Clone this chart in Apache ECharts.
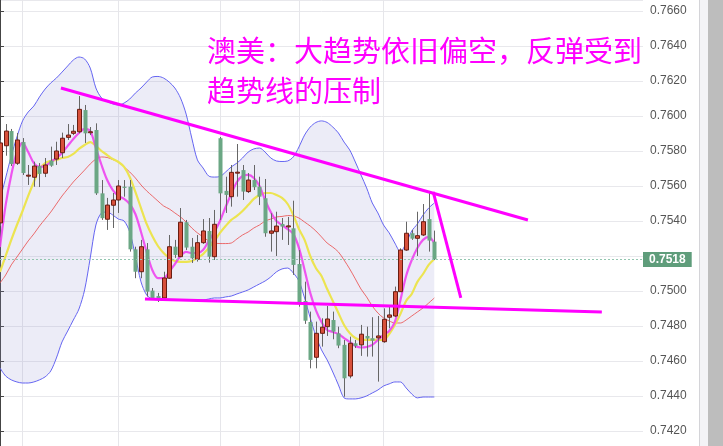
<!DOCTYPE html>
<html><head><meta charset="utf-8">
<script src="https://cdn.jsdelivr.net/npm/echarts@6/dist/echarts.min.js"></script>
<style>html,body{margin:0;padding:0;background:#fff}#c{width:723px;height:446px}</style>
</head><body><div id="c"></div>
<script>
// ---- data ----
const opens = [0.75389,0.75830,0.75914,0.75730,0.75851,0.75660,0.75650,0.75714,0.75673,0.75745,
0.75754,0.75790,0.75878,0.75901,0.75910,0.76034,0.75908,0.75920,0.75558,0.75410,
0.75490,0.75520,0.75596,0.75596,0.75238,0.75110,0.75238,0.75002,0.74971,0.74960,
0.75073,0.75253,0.75196,0.75393,0.75253,0.75181,0.75276,0.75343,0.75196,0.75873,
0.75572,0.75539,0.75677,0.75691,0.75568,0.75634,0.75596,0.75530,0.75330,0.75339,
0.75383,0.75371,0.75358,0.75154,0.74943,0.74823,0.74621,0.74758,0.74796,0.74834,
0.74758,0.74692,0.74514,0.74701,0.74692,0.74743,0.74730,0.74732,0.74710,0.74850,
0.74857,0.74996,0.75234,0.75330,0.75301,0.75320,0.75411,0.75282];
const closes = [0.75846,0.75914,0.75726,0.75863,0.75674,0.75662,0.75714,0.75669,0.75720,0.75716,
0.75800,0.75873,0.75891,0.75913,0.76038,0.75901,0.75910,0.75558,0.75416,0.75491,
0.75520,0.75600,0.75589,0.75238,0.75110,0.75253,0.74996,0.74960,0.74954,0.75074,
0.75253,0.75206,0.75393,0.75248,0.75187,0.75276,0.75343,0.75196,0.75381,0.75558,
0.75549,0.75678,0.75679,0.75568,0.75634,0.75593,0.75539,0.75330,0.75343,0.75371,
0.75368,0.75372,0.75149,0.74926,0.74830,0.74606,0.74758,0.74793,0.74840,0.74768,
0.74688,0.74501,0.74701,0.74686,0.74753,0.74728,0.74716,0.74743,0.74838,0.74863,
0.74996,0.75234,0.75330,0.75299,0.75316,0.75396,0.75288,0.75181];
const lows = [0.75371,0.75773,0.75714,0.75720,0.75663,0.75606,0.75596,0.75594,0.75651,0.75710,
0.75720,0.75760,0.75863,0.75891,0.75901,0.75846,0.75891,0.75549,0.75406,0.75349,
0.75360,0.75446,0.75539,0.75225,0.75073,0.75073,0.74968,0.74949,0.74937,0.74949,
0.75069,0.75189,0.75194,0.75234,0.75160,0.75168,0.75269,0.75162,0.75177,0.75406,
0.75446,0.75482,0.75539,0.75520,0.75560,0.75577,0.75491,0.75310,0.75225,0.75200,
0.75292,0.75263,0.75092,0.74910,0.74812,0.74558,0.74558,0.74682,0.74743,0.74724,
0.74673,0.74396,0.74501,0.74674,0.74629,0.74625,0.74625,0.74482,0.74704,0.74787,
0.74851,0.74994,0.75229,0.75292,0.75200,0.75314,0.75225,0.75177];
const highs = [0.75863,0.75954,0.75926,0.75903,0.75874,0.75720,0.75739,0.75731,0.75760,0.75825,
0.75853,0.75905,0.75954,0.75949,0.76114,0.76063,0.75937,0.75958,0.75634,0.75532,
0.75560,0.75634,0.75634,0.75634,0.75253,0.75292,0.75274,0.75017,0.74989,0.75110,
0.75320,0.75292,0.75474,0.75406,0.75303,0.75320,0.75411,0.75417,0.75463,0.75880,
0.75653,0.75720,0.75840,0.75720,0.75674,0.75720,0.75653,0.75640,0.75444,0.75453,
0.75417,0.75423,0.75516,0.75234,0.75053,0.74882,0.74825,0.74844,0.74914,0.74882,
0.74796,0.74720,0.74739,0.74720,0.74806,0.74796,0.74850,0.74857,0.74901,0.74910,
0.75025,0.75244,0.75396,0.75349,0.75453,0.75497,0.75568,0.75345];
const bbUpper = [0.75520,0.75646,0.75772,0.75880,0.75972,0.76023,0.76057,0.76109,0.76154,0.76189,
0.76217,0.76251,0.76286,0.76320,0.76337,0.76326,0.76274,0.76160,0.76103,0.76083,
0.76069,0.76063,0.76074,0.76097,0.76131,0.76160,0.76194,0.76223,0.76226,0.76217,
0.76194,0.76160,0.76103,0.76011,0.75874,0.75749,0.75703,0.75657,0.75651,0.75654,
0.75680,0.75709,0.75731,0.75760,0.75794,0.75812,0.75817,0.75794,0.75760,0.75743,
0.75740,0.75743,0.75766,0.75823,0.75891,0.75937,0.75963,0.75972,0.75963,0.75937,
0.75903,0.75851,0.75806,0.75737,0.75663,0.75589,0.75503,0.75446,0.75377,0.75332,
0.75274,0.75223,0.75274,0.75343,0.75383,0.75434,0.75474,0.75503];
const bbLower = [0.74560,0.74514,0.74492,0.74480,0.74474,0.74474,0.74480,0.74492,0.74509,0.74543,
0.74617,0.74709,0.74771,0.74834,0.74897,0.75006,0.75189,0.75377,0.75446,0.75451,
0.75434,0.75411,0.75400,0.75337,0.75200,0.75052,0.74977,0.74954,0.74949,0.74949,
0.74949,0.74949,0.74949,0.74949,0.74949,0.74949,0.74949,0.74954,0.74960,0.74960,
0.74966,0.74971,0.74983,0.74994,0.75006,0.75023,0.75040,0.75057,0.75080,0.75109,
0.75126,0.75131,0.75103,0.75057,0.74960,0.74846,0.74743,0.74663,0.74606,0.74537,
0.74463,0.74389,0.74383,0.74383,0.74389,0.74400,0.74417,0.74434,0.74457,0.74469,
0.74480,0.74480,0.74446,0.74411,0.74389,0.74394,0.74394,0.74394];
const bbMid = [0.75046,0.75091,0.75149,0.75194,0.75240,0.75286,0.75326,0.75371,0.75411,0.75451,
0.75497,0.75543,0.75583,0.75623,0.75657,0.75691,0.75726,0.75754,0.75766,0.75763,
0.75751,0.75737,0.75709,0.75680,0.75646,0.75606,0.75572,0.75543,0.75514,0.75486,
0.75469,0.75446,0.75423,0.75394,0.75360,0.75332,0.75309,0.75286,0.75274,0.75271,
0.75271,0.75274,0.75297,0.75320,0.75337,0.75360,0.75377,0.75400,0.75411,0.75423,
0.75426,0.75431,0.75429,0.75417,0.75394,0.75371,0.75343,0.75309,0.75274,0.75251,
0.75223,0.75177,0.75126,0.75069,0.75011,0.74966,0.74914,0.74874,0.74846,0.74829,
0.74817,0.74817,0.74834,0.74857,0.74880,0.74903,0.74931,0.74960];
const maYellow = [0.75109,0.75200,0.75292,0.75377,0.75457,0.75543,0.75623,0.75697,0.75731,0.75743,
0.75749,0.75760,0.75766,0.75783,0.75812,0.75834,0.75851,0.75829,0.75800,0.75777,
0.75754,0.75737,0.75709,0.75651,0.75566,0.75474,0.75383,0.75314,0.75257,0.75217,
0.75189,0.75171,0.75166,0.75166,0.75171,0.75189,0.75211,0.75246,0.75286,0.75332,
0.75371,0.75406,0.75429,0.75457,0.75491,0.75526,0.75549,0.75560,0.75560,0.75549,
0.75532,0.75497,0.75434,0.75354,0.75292,0.75200,0.75131,0.75086,0.75011,0.74943,
0.74874,0.74806,0.74760,0.74731,0.74720,0.74720,0.74720,0.74720,0.74720,0.74754,
0.74806,0.74869,0.74943,0.74983,0.75052,0.75097,0.75149,0.75183];
const maMagenta = [0.75251,0.75491,0.75663,0.75794,0.75846,0.75794,0.75731,0.75709,0.75714,0.75737,
0.75760,0.75789,0.75829,0.75869,0.75903,0.75926,0.75914,0.75817,0.75720,0.75634,
0.75577,0.75543,0.75526,0.75497,0.75440,0.75337,0.75223,0.75120,0.75074,0.75074,
0.75109,0.75154,0.75200,0.75223,0.75217,0.75217,0.75234,0.75286,0.75337,0.75400,
0.75480,0.75554,0.75623,0.75657,0.75663,0.75646,0.75600,0.75520,0.75451,0.75400,
0.75377,0.75354,0.75326,0.75246,0.75120,0.74989,0.74891,0.74823,0.74777,0.74766,
0.74754,0.74731,0.74709,0.74686,0.74677,0.74680,0.74692,0.74720,0.74749,0.74771,
0.74823,0.74949,0.75086,0.75177,0.75246,0.75292,0.75309,0.75274];
// trend lines drawn on the chart: [bar position, price]
const trendResistance = [[10.8, 0.76160], [93.6, 0.75406]];
const trendDrop = [[76.8, 0.75566], [81.7, 0.74960]];
const trendSupport = [[25.7, 0.74954], [106.7, 0.74880]];
const lastPrice = 0.7518;
const slotCount = 115;            // bar slots on the time axis (right part empty)
const dayLines = [4, 21, 39, 53, 68];
const annotation = '澳美：大趋势依旧偏空，反弹受到\n趋势线的压制';
const yMin = 0.74114, yMax = 0.76663;

// ---- chart ----
const categories = Array.from({length: slotCount}, (_, i) => String(i + 1));
const bbWidth = bbUpper.map((u, i) => u - bbLower[i]);
const kData = opens.map((o, i) => [i, o, closes[i], lows[i], highs[i]]);
const UP = '#d8503b', UPB = '#6a1d12', DOWN = '#6ba784', WICK = '#666';
const FONT = 'Liberation Sans, Arial, sans-serif';

const chart = echarts.init(document.getElementById('c'), null, {renderer: 'canvas'});
const lineBase = {type: 'line', symbol: 'none', silent: true, xAxisIndex: 0, yAxisIndex: 0};
chart.setOption({
  animation: false,
  backgroundColor: '#fff',
  title: {
    text: annotation, left: 207, top: 31, padding: 0,
    textStyle: {color: '#ff00ff', fontSize: 29, fontWeight: 'normal', fontFamily: 'Noto Sans CJK SC', lineHeight: 40}
  },
  grid: {left: 0, right: 80, top: 0, bottom: 0, containLabel: false, outerBoundsMode: 'none'},
  xAxis: [{
    type: 'category', data: categories, boundaryGap: false,
    axisLine: {show: false}, axisTick: {show: false}, axisLabel: {show: false},
    splitLine: {show: true, interval: (idx) => dayLines.indexOf(idx) >= 0, lineStyle: {color: '#e6e6ea', width: 1}}
  }, {
    type: 'value', min: 0, max: slotCount - 1, show: false
  }],
  yAxis: {
    type: 'value', position: 'right', min: yMin, max: yMax, splitNumber: 12, scale: true,
    axisLine: {show: true, lineStyle: {color: '#444', width: 1}},
    axisTick: {show: true, length: 4, lineStyle: {color: '#444'}},
    axisLabel: {show: true, margin: 7, color: '#555', fontSize: 12, fontFamily: FONT,
      // the current-price tag covers the tick label next to it
      formatter: (v) => Math.abs(v - lastPrice) < 0.0007 ? '' : v.toFixed(4),
      showMinLabel: false, showMaxLabel: false},
    splitLine: {show: true, lineStyle: {color: '#e8e8ec', width: 1}}
  },
  graphic: [
    {type: 'rect', shape: {x: 699, y: 0, width: 1, height: 446}, style: {fill: '#d4d4d8'}, silent: true},
    {type: 'rect', shape: {x: 700, y: 0, width: 8, height: 446}, style: {fill: '#f3f3f6'}, silent: true},
    {type: 'rect', shape: {x: 708, y: 0, width: 15, height: 446}, style: {fill: '#bdbdbd'}, silent: true}
  ],
  series: [
    Object.assign({}, lineBase, {name: 'bbBase', data: bbLower, stack: 'bb', lineStyle: {opacity: 0}, z: 1}),
    Object.assign({}, lineBase, {name: 'bbFill', data: bbWidth, stack: 'bb', lineStyle: {opacity: 0},
      areaStyle: {color: 'rgba(150,150,210,0.25)'}, z: 1}),
    Object.assign({}, lineBase, {name: 'upper', data: bbUpper, smooth: 0.3, lineStyle: {color: '#6565f2', width: 1}, z: 2}),
    Object.assign({}, lineBase, {name: 'lower', data: bbLower, smooth: 0.3, lineStyle: {color: '#6565f2', width: 1}, z: 2}),
    Object.assign({}, lineBase, {name: 'mid', data: bbMid, smooth: 0.3, lineStyle: {color: '#ea5454', width: 1, opacity: 0.85}, z: 2}),
    Object.assign({}, lineBase, {name: 'maY', data: maYellow, smooth: 0.3, lineStyle: {color: '#ece451', width: 2.2}, z: 2,
      markLine: {
        silent: true, precision: 4, symbol: ['none', 'none'], data: [{yAxis: lastPrice}],
        lineStyle: {color: '#93c6b0', type: [2, 2], width: 1},
        label: {show: true, position: 'end', distance: 0, formatter: lastPrice.toFixed(4), color: '#fff',
          backgroundColor: '#5f9d7b', padding: [2, 6, 1, 6], fontSize: 12, fontWeight: 'bold', fontFamily: FONT}
      }}),
    Object.assign({}, lineBase, {name: 'maM', data: maMagenta, smooth: 0.3, lineStyle: {color: '#ee44ee', width: 2.2, opacity: 0.9}, z: 2}),
    {
      type: 'custom', name: 'K', xAxisIndex: 0, yAxisIndex: 0, data: kData, z: 3,
      encode: {x: 0, y: [1, 2, 3, 4]},
      renderItem: function (params, api) {
        const x = api.value(0), o = api.value(1), c = api.value(2), l = api.value(3), h = api.value(4);
        const po = api.coord([x, o]), pc = api.coord([x, c]), pl = api.coord([x, l]), ph = api.coord([x, h]);
        const w = Math.round(api.size([1, 0])[0] * 0.72);
        const up = c >= o;
        const top = Math.min(po[1], pc[1]), bot = Math.max(po[1], pc[1]);
        const cx = Math.round(po[0]) + 0.5;
        return {type: 'group', children: [
          {type: 'line', shape: {x1: cx, y1: ph[1], x2: cx, y2: pl[1]}, style: {stroke: WICK, lineWidth: 1}},
          {type: 'rect', shape: {x: cx - w / 2, y: top, width: w, height: Math.max(bot - top, 1)},
            style: up ? {fill: UP, stroke: UPB, lineWidth: 1} : {fill: DOWN, stroke: null}}
        ]};
      }
    },
    {type: 'line', name: 'tA', xAxisIndex: 1, yAxisIndex: 0, data: trendResistance, symbol: 'none', silent: true, lineStyle: {color: '#ff00ff', width: 3}, z: 6},
    {type: 'line', name: 'tB', xAxisIndex: 1, yAxisIndex: 0, data: trendDrop, symbol: 'none', silent: true, lineStyle: {color: '#ff00ff', width: 3}, z: 6},
    {type: 'line', name: 'tC', xAxisIndex: 1, yAxisIndex: 0, data: trendSupport, symbol: 'none', silent: true, lineStyle: {color: '#ff00ff', width: 3}, z: 6}
  ]
});
</script>
</body></html>
